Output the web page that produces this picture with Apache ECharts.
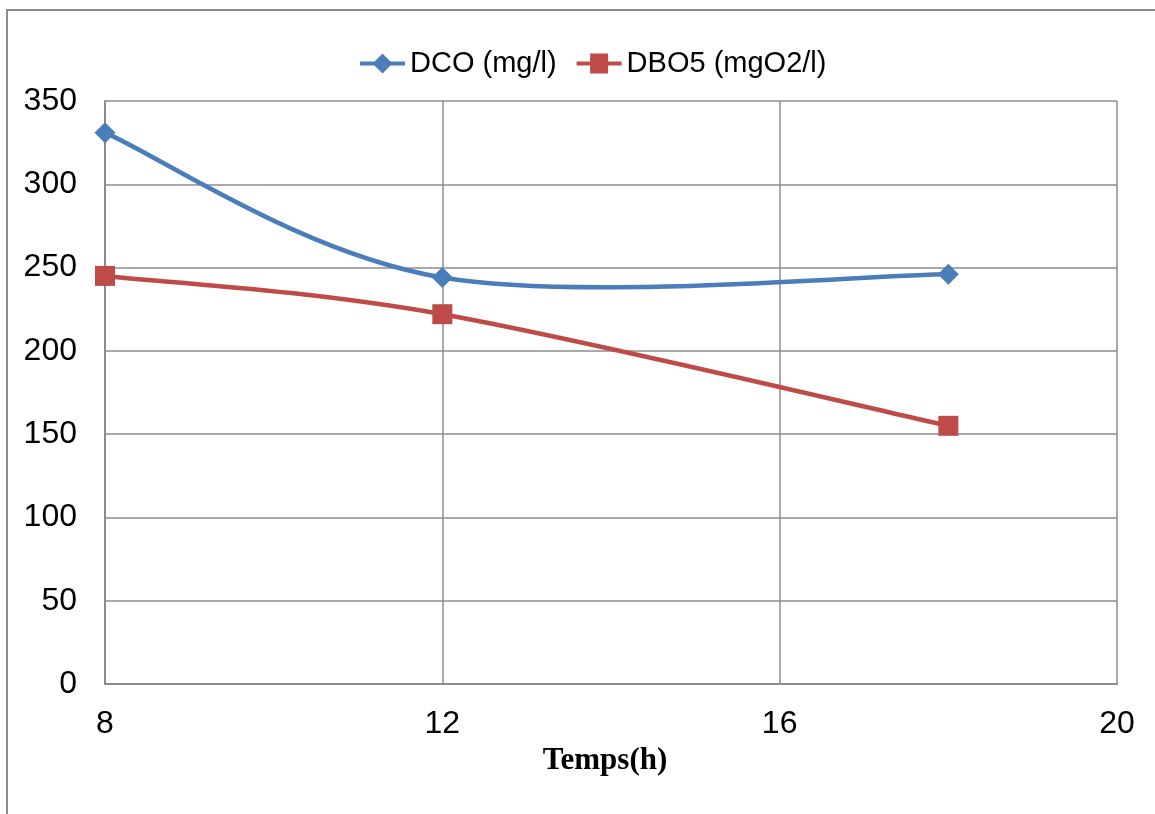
<!DOCTYPE html>
<html>
<head>
<meta charset="utf-8">
<script src="https://cdn.jsdelivr.net/npm/echarts@6/dist/echarts.min.js"></script>
<style>
  html, body { margin: 0; padding: 0; background: #fff; }
  #chart { width: 1155px; height: 814px; }
</style>
</head>
<body>
<div id="chart"></div>
<script>
// Sampling times (hours)
const hours = [8, 12, 18];
// Chemical oxygen demand, mg/l
const dco = [331, 244, 246];
// Biochemical oxygen demand (5 days), mgO2/l
const dbo5 = [245, 222, 155];
// Axis settings
const xTicks = { min: 8, max: 20, interval: 4 };
const yTicks = { min: 0, max: 350, interval: 50 };

const toPairs = (xs, ys) => xs.map((x, i) => [x, ys[i]]);

const blue = '#4A7EBB';
const red = '#BE4B48';
const gridColor = '#8c8c8c';
const font = 'Liberation Sans, Arial, sans-serif';
const lineW = 4.5;

// Catmull-Rom style smoothed path through the data, in pixel space
function smoothCurve(xs, ys, color) {
  return function (params, api) {
    if (params.dataIndex !== 0) return null;
    const p = xs.map((x, i) => api.coord([x, ys[i]]));
    let d = 'M' + p[0][0] + ',' + p[0][1];
    for (let i = 0; i < p.length - 1; i++) {
      const p0 = p[Math.max(i - 1, 0)];
      const p1 = p[i];
      const p2 = p[i + 1];
      const p3 = p[Math.min(i + 2, p.length - 1)];
      const c1 = [p1[0] + (p2[0] - p0[0]) / 6, p1[1] + (p2[1] - p0[1]) / 6];
      const c2 = [p2[0] - (p3[0] - p1[0]) / 6, p2[1] - (p3[1] - p1[1]) / 6];
      d += ' C' + c1[0] + ',' + c1[1] + ' ' + c2[0] + ',' + c2[1] + ' ' + p2[0] + ',' + p2[1];
    }
    return {
      type: 'path',
      shape: { pathData: d },
      style: { fill: 'none', stroke: color, lineWidth: lineW, lineJoin: 'round', lineCap: 'round' },
      silent: true
    };
  };
}

// Legend icons: line with its marker
const diamondIcon = 'path://M0,8 L45,8 L45,12 L0,12 Z M22.5,0 L32.5,10 L22.5,20 L12.5,10 Z';
const squareIcon = 'path://M0,8 L45,8 L45,12 L0,12 Z M13.5,0 L31.5,0 L31.5,20 L13.5,20 Z';

const chart = echarts.init(document.getElementById('chart'), null, { renderer: 'canvas' });
chart.setOption({
  backgroundColor: '#fff',
  animation: false,
  graphic: [{
    type: 'rect',
    shape: { x: 7, y: 10, width: 1170, height: 830 },
    style: { fill: 'none', stroke: gridColor, lineWidth: 2 },
    silent: true
  }],
  legend: {
    top: 49,
    left: 360,
    padding: 0,
    itemWidth: 45,
    itemHeight: 20,
    itemGap: 20,
    textStyle: { fontFamily: font, fontSize: 29, color: '#000' },
    data: [
      { name: 'DCO (mg/l)', icon: diamondIcon },
      { name: 'DBO5 (mgO2/l)', icon: squareIcon }
    ]
  },
  grid: { left: 105, right: 38, top: 101, bottom: 130, containLabel: false },
  xAxis: {
    type: 'value',
    min: xTicks.min, max: xTicks.max, interval: xTicks.interval,
    name: 'Temps(h)',
    nameLocation: 'middle',
    nameGap: 61,
    nameTextStyle: {
      fontFamily: 'Liberation Serif, Times New Roman, serif',
      fontWeight: 'bold', fontSize: 31, color: '#000',
      padding: [0, 12, 0, 0]
    },
    axisLine: { show: true, lineStyle: { color: gridColor, width: 2 } },
    axisTick: { show: false },
    axisLabel: { fontFamily: font, fontSize: 32, color: '#000', margin: 24 },
    splitLine: { show: true, lineStyle: { color: gridColor, width: 1.5 } }
  },
  yAxis: {
    type: 'value',
    min: yTicks.min, max: yTicks.max, interval: yTicks.interval,
    axisLine: { show: true, lineStyle: { color: gridColor, width: 2 } },
    axisTick: { show: false },
    axisLabel: { fontFamily: font, fontSize: 32, color: '#000', margin: 28 },
    splitLine: { show: true, lineStyle: { color: gridColor, width: 1.5 } }
  },
  series: [{
    type: 'custom',
    name: 'dco-curve',
    data: toPairs(hours, dco),
    encode: { x: 0, y: 1 },
    renderItem: smoothCurve(hours, dco, blue),
    z: 2
  }, {
    type: 'custom',
    name: 'dbo5-curve',
    data: toPairs(hours, dbo5),
    encode: { x: 0, y: 1 },
    renderItem: smoothCurve(hours, dbo5, red),
    z: 2
  }, {
    name: 'DCO (mg/l)',
    type: 'line',
    data: toPairs(hours, dco),
    symbol: 'diamond',
    symbolSize: 21,
    showAllSymbol: true,
    lineStyle: { width: 0, opacity: 0 },
    itemStyle: { color: blue },
    z: 3
  }, {
    name: 'DBO5 (mgO2/l)',
    type: 'line',
    data: toPairs(hours, dbo5),
    symbol: 'rect',
    symbolSize: 20,
    showAllSymbol: true,
    lineStyle: { width: 0, opacity: 0 },
    itemStyle: { color: red },
    z: 3
  }]
});
</script>
</body>
</html>
